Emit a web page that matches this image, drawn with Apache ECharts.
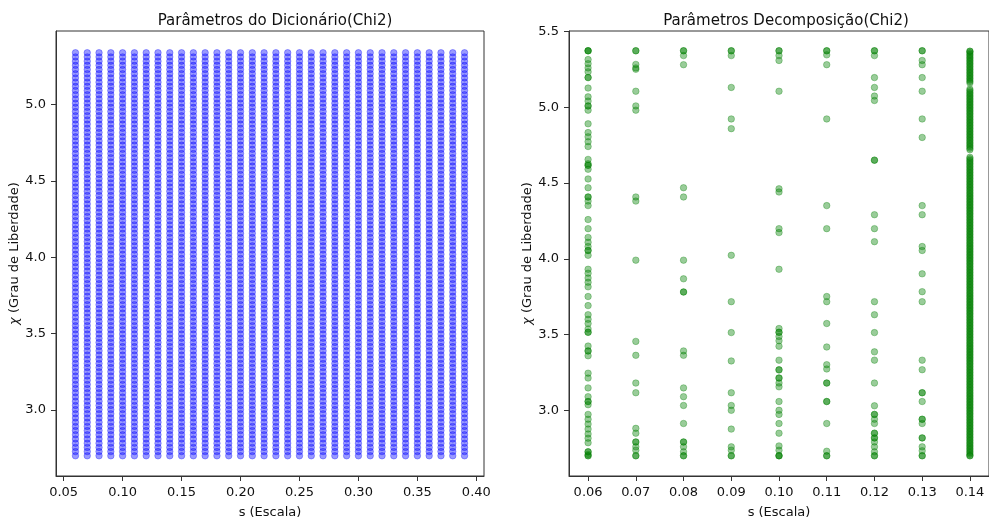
<!DOCTYPE html>
<html>
<head>
<meta charset="utf-8">
<script src="https://cdn.jsdelivr.net/npm/echarts@6/dist/echarts.min.js"></script>
<style>html,body{margin:0;padding:0;background:#fff}#c{width:989px;height:524px}</style>
</head>
<body>
<div id="c"></div>
<script>
// ---- Left chart: dictionary parameter grid ----
const dictS = [0.06,0.07,0.08,0.09,0.10,0.11,0.12,0.13,0.14,0.15,0.16,0.17,0.18,0.19,0.20,0.21,0.22,0.23,0.24,0.25,0.26,0.27,0.28,0.29,0.30,0.31,0.32,0.33,0.34,0.35,0.36,0.37,0.38,0.39];
const dictChi = [
2.7000,2.7275,2.7550,2.7825,2.8100,2.8375,2.8650,2.8925,2.9200,2.9475,
2.9750,3.0025,3.0300,3.0575,3.0850,3.1125,3.1400,3.1675,3.1950,3.2225,
3.2500,3.2775,3.3050,3.3325,3.3600,3.3875,3.4150,3.4425,3.4700,3.4975,
3.5250,3.5525,3.5800,3.6075,3.6350,3.6625,3.6900,3.7175,3.7450,3.7725,
3.8000,3.8275,3.8550,3.8825,3.9100,3.9375,3.9650,3.9925,4.0200,4.0475,
4.0750,4.1025,4.1300,4.1575,4.1850,4.2125,4.2400,4.2675,4.2950,4.3225,
4.3500,4.3775,4.4050,4.4325,4.4600,4.4875,4.5150,4.5425,4.5700,4.5975,
4.6250,4.6525,4.6800,4.7075,4.7350,4.7625,4.7900,4.8175,4.8450,4.8725,
4.9000,4.9275,4.9550,4.9825,5.0100,5.0375,5.0650,5.0925,5.1200,5.1475,
5.1750,5.2025,5.2300,5.2575,5.2850,5.3125,5.3400];

// ---- Right chart: decomposition parameters (chi per scale column) ----
const decS = [0.06,0.07,0.08,0.09,0.10,0.11,0.12,0.13,0.14];
const chi006 = [5.373,5.373,5.373,5.315,5.288,5.260,5.234,5.196,5.196,5.127,5.069,5.041,5.009,5.009,4.981,4.891,4.833,4.805,4.773,4.741,4.656,4.627,4.617,4.617,4.591,4.527,4.469,4.408,4.408,4.381,4.351,4.259,4.199,4.141,4.109,4.081,4.055,4.055,4.023,3.931,3.905,3.873,3.845,3.815,3.751,3.691,3.631,3.601,3.573,3.537,3.515,3.515,3.424,3.392,3.392,3.360,3.245,3.213,3.148,3.090,3.058,3.058,3.037,2.973,2.941,2.909,2.876,2.844,2.816,2.786,2.726,2.726,2.709,2.700,2.700];
const chi007 = [5.373,5.373,5.283,5.260,5.251,5.106,5.009,4.981,4.408,4.381,3.991,3.455,3.363,3.180,3.116,2.881,2.849,2.791,2.791,2.759,2.737,2.700,2.700];
const chi008 = [5.373,5.373,5.341,5.281,4.469,4.408,3.991,3.868,3.781,3.781,3.392,3.363,3.148,3.090,3.032,2.913,2.791,2.791,2.759,2.726,2.700,2.700];
const chi009 = [5.373,5.373,5.341,5.131,4.923,4.859,4.023,3.717,3.513,3.326,3.116,3.032,3.000,2.876,2.759,2.737,2.700,2.700];
const chi010 = [5.373,5.373,5.341,5.309,5.106,4.462,4.441,4.199,4.173,3.931,3.540,3.515,3.515,3.487,3.459,3.423,3.331,3.267,3.267,3.213,3.213,3.180,3.155,3.058,3.000,2.973,2.913,2.849,2.765,2.737,2.700,2.700,2.700];
const chi011 = [5.373,5.373,5.346,5.281,4.923,4.351,4.199,3.751,3.717,3.573,3.418,3.301,3.273,3.180,3.180,3.058,3.058,2.913,2.730,2.700,2.700];
const chi012 = [5.373,5.373,5.341,5.196,5.131,5.074,5.045,4.651,4.651,4.291,4.199,4.113,3.717,3.631,3.513,3.386,3.331,3.180,3.030,2.973,2.973,2.941,2.913,2.849,2.849,2.818,2.818,2.791,2.759,2.726,2.700,2.700];
const chi013 = [5.373,5.373,5.309,5.281,5.196,5.106,4.923,4.801,4.351,4.291,4.081,4.055,3.901,3.783,3.717,3.331,3.268,3.116,3.116,3.058,2.941,2.941,2.913,2.818,2.818,2.759,2.733,2.700,2.700];
const chi014a = [5.37,5.37,5.36,5.34,5.32,5.30,5.28,5.26,5.24,5.22,5.20,5.18,5.16,
5.12,5.10,5.08,5.06,5.04,5.02,5.00,4.98,4.96,4.94,4.92,4.90,4.88,4.86,4.84,4.82,4.80,4.78,4.76,4.74,4.72,
4.67,4.65,4.63,4.61,4.59,4.57,4.55,4.53,4.51,4.49,4.47,4.45,4.43,4.41,4.39,4.37,4.35,4.33,4.31,4.29,4.27,4.25,4.23,4.21,4.19,4.17,4.15,4.13,4.11,4.09,4.07,4.05,4.03,4.01,
3.99,3.97,3.95,3.93,3.91,3.89,3.87,3.85,3.83,3.81,3.79,3.77,3.75,3.73,3.71,3.69,3.67,3.65,3.63,3.61,3.59,3.57,3.55,3.53,3.51,3.49,3.47,3.45,3.43,3.41,3.39,3.37,3.35,3.33,3.31,3.29,3.27,3.25,3.23,3.21,3.19,3.17,3.15,3.13,3.11,3.09,3.07,3.05,3.03,3.01,
2.99,2.97,2.95,2.93,2.91,2.89,2.87,2.85,2.83,2.81,2.79,2.77,2.75,2.73,2.71,2.70,2.70];
const chi014b = [5.35,5.33,5.31,5.29,5.27,5.25,5.23,5.21,5.19,5.17,5.11,5.09,5.07,5.05,5.03,5.01,4.99,4.97,4.95,4.93,4.91,4.89,4.87,4.85,4.83,4.81,4.79,4.77,4.75,4.73,
4.66,4.64,4.62,4.60,4.58,4.56,4.54,4.52,4.50,4.48,4.46,4.44,4.42,4.40,4.38,4.36,4.34,4.32,4.30,4.28,4.26,4.24,4.22,4.20,4.18,4.16,4.14,4.12,4.10,4.08,4.06,4.04,4.02,4.00,
3.98,3.96,3.94,3.92,3.90,3.88,3.86,3.84,3.82,3.80,3.78,3.76,3.74,3.72,3.70,3.68,3.66,3.64,3.62,3.60,3.58,3.56,3.54,3.52,3.50,3.48,3.46,3.44,3.42,3.40,3.38,3.36,3.34,3.32,3.30,3.28,3.26,3.24,3.22,3.20,3.18,3.16,3.14,3.12,3.10,3.08,3.06,3.04,3.02,3.00,
2.98,2.96,2.94,2.92,2.90,2.88,2.86,2.84,2.82,2.80,2.78,2.76,2.74,2.72];
const chi014 = chi014a.concat(chi014b);
const decChi = [chi006,chi007,chi008,chi009,chi010,chi011,chi012,chi013,chi014];

// tick labels
const leftXTicks = [0.05,0.10,0.15,0.20,0.25,0.30,0.35,0.40];
const leftYTicks = [3.0,3.5,4.0,4.5,5.0];
const rightXTicks = [0.06,0.07,0.08,0.09,0.10,0.11,0.12,0.13,0.14];
const rightYTicks = [3.0,3.5,4.0,4.5,5.0,5.5];

const titles = ['Parâmetros do Dicionário(Chi2)','Parâmetros Decomposição(Chi2)'];
const xName = 's (Escala)';
const yName = '{i|χ} (Grau de Liberdade)';

// build series data
const leftData = [];
dictS.forEach(s => dictChi.forEach(c => leftData.push([s, c])));
const rightData = [];
decS.forEach((s, i) => decChi[i].forEach(c => rightData.push([s, c])));

const FONT = 'DejaVu Sans';
const txt = '#111';
function axisCommon(ticks, digits) {
  return {
    axisLine: {show: true, onZero: false, lineStyle: {color: '#333', width: 1}},
    axisTick: {show: true, inside: false, length: 5, customValues: ticks, lineStyle: {color: '#333'}},
    axisLabel: {show: true, customValues: ticks, fontFamily: FONT, fontSize: 13, color: txt, margin: 10,
      formatter: v => Number(v).toFixed(digits)},
    splitLine: {show: false}
  };
}
const nameStyle = {fontFamily: FONT, fontSize: 13, color: txt,
  rich: {i: {fontStyle: 'italic', fontFamily: FONT, fontSize: 13, color: txt}}};

const chart = echarts.init(document.getElementById('c'), null, {renderer: 'canvas'});
chart.setOption({
  animation: false,
  backgroundColor: '#fff',
  title: [
    {text: titles[0], left: 270, top: 9, textAlign: 'center',
     textStyle: {fontFamily: FONT, fontSize: 15, fontWeight: 'normal', color: txt}},
    {text: titles[1], left: 781, top: 9, textAlign: 'center',
     textStyle: {fontFamily: FONT, fontSize: 15, fontWeight: 'normal', color: txt}}
  ],
  grid: [
    {left: 56, width: 428, top: 31, bottom: 37, show: true, borderColor: '#333', borderWidth: 1, containLabel: false},
    {left: 569, right: -5, top: 31, bottom: 37, show: true, borderColor: '#333', borderWidth: 1, containLabel: false}
  ],
  xAxis: [
    Object.assign({type: 'value', gridIndex: 0, min: 0.0435, max: 0.4065,
      name: xName, nameLocation: 'middle', nameGap: 30, nameTextStyle: nameStyle}, axisCommon(leftXTicks, 2)),
    Object.assign({type: 'value', gridIndex: 1, min: 0.056, max: 0.144,
      name: xName, nameLocation: 'middle', nameGap: 30, nameTextStyle: nameStyle}, axisCommon(rightXTicks, 2))
  ],
  yAxis: [
    Object.assign({type: 'value', gridIndex: 0, min: 2.5675, max: 5.4825,
      name: yName, nameLocation: 'middle', nameGap: 33, nameRotate: 90, nameTextStyle: nameStyle},
      axisCommon(leftYTicks, 1)),
    Object.assign({type: 'value', gridIndex: 1, min: 2.5665, max: 5.5035,
      name: yName, nameLocation: 'middle', nameGap: 31, nameRotate: 90, nameTextStyle: nameStyle},
      axisCommon(rightYTicks, 1))
  ],
  series: [
    {type: 'scatter', xAxisIndex: 0, yAxisIndex: 0, data: leftData, symbolSize: 6.5,
     itemStyle: {color: 'rgba(0,0,255,0.5)', borderColor: 'rgba(0,0,255,0.5)', borderWidth: 0.8}, silent: true},
    {type: 'scatter', xAxisIndex: 1, yAxisIndex: 1, data: rightData, symbolSize: 6.5,
     itemStyle: {color: 'rgba(0,128,0,0.5)', borderColor: 'rgba(0,128,0,0.5)', borderWidth: 0.8}, silent: true}
  ]
});
</script>
</body>
</html>
